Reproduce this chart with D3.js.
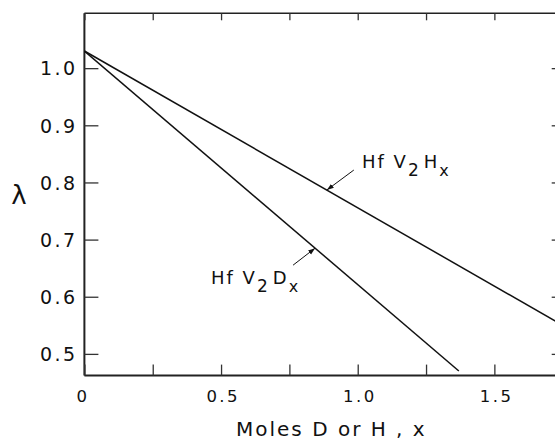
<!DOCTYPE html>
<html>
<head>
<meta charset="utf-8">
<script src="https://cdn.jsdelivr.net/npm/d3@7"></script>
<style>
  body { margin: 0; background: #fff; }
  svg text { font-family: "DejaVu Sans", sans-serif; fill: #111; }
</style>
</head>
<body>
<div id="chart"></div>
<script>
// lambda vs moles of H or D
var seriesNames = ["HfV2Hx", "HfV2Dx"];
var hydrideX = [0, 1.75];
var hydrideY = [1.03, 0.55];
var deuterideX = [0, 1.37];
var deuterideY = [1.03, 0.47];
var xTicks = [0, 0.5, 1.0, 1.5];
var xMinorTicks = [0.25, 0.75, 1.25, 1.75];
var yTicks = [0.5, 0.6, 0.7, 0.8, 0.9, 1.0];
var labelAt = [0.887, 0.844]; // x where the arrows touch each line

var width = 555, height = 439;
var plotL = 84.4, plotR = 562.7, plotT = 13.3, plotB = 375.6;

var svg = d3.select("#chart").append("svg")
    .attr("width", width)
    .attr("height", height);

var x = d3.scaleLinear().domain([0, 1.75]).range([plotL, plotR]);
var y = d3.scaleLinear().domain([0.462, 1.096]).range([plotB, plotT]);

var defs = svg.append("defs");
defs.append("marker")
    .attr("id", "arrow")
    .attr("viewBox", "0 0 10 10")
    .attr("refX", 10).attr("refY", 5)
    .attr("markerWidth", 7).attr("markerHeight", 7)
    .attr("markerUnits", "userSpaceOnUse")
    .attr("orient", "auto")
  .append("path")
    .attr("d", "M0,1.5 L10,5 L0,8.5 Z")
    .attr("fill", "#111");

defs.append("clipPath").attr("id", "clip")
  .append("rect").attr("x", plotL).attr("y", plotT).attr("width", plotR - plotL).attr("height", plotB - plotT);

// frame
var frame = svg.append("g").attr("stroke", "#222").attr("fill", "none");
frame.append("line").attr("x1", plotL).attr("x2", plotR).attr("y1", plotB).attr("y2", plotB).attr("stroke-width", 2);
frame.append("line").attr("x1", plotL).attr("x2", plotL).attr("y1", plotT).attr("y2", plotB).attr("stroke-width", 2);
frame.append("line").attr("x1", plotL).attr("x2", plotR).attr("y1", plotT).attr("y2", plotT).attr("stroke-width", 1.6);
frame.append("line").attr("x1", plotR).attr("x2", plotR).attr("y1", plotT).attr("y2", plotB).attr("stroke-width", 1.6);

// axes, ticks drawn inward
var allX = xTicks.concat(xMinorTicks);
function tickStyle(g) {
    g.select(".domain").remove();
    g.selectAll("line").attr("stroke", "#333").attr("stroke-width", 1.3);
}

svg.append("g")
    .attr("transform", "translate(0," + plotB + ")")
    .call(d3.axisTop(x).tickValues(allX).tickSize(11).tickFormat(""))
    .call(tickStyle);

svg.append("g")
    .attr("transform", "translate(0," + plotT + ")")
    .call(d3.axisBottom(x).tickValues(allX).tickSize(7).tickFormat(""))
    .call(tickStyle);

svg.append("g")
    .attr("transform", "translate(" + plotL + ",0)")
    .call(d3.axisRight(y).tickValues(yTicks).tickSize(14).tickFormat(""))
    .call(tickStyle);

svg.append("g")
    .attr("transform", "translate(" + plotR + ",0)")
    .call(d3.axisLeft(y).tickValues(yTicks).tickSize(11).tickFormat(""))
    .call(tickStyle);

// tick labels
svg.append("g").selectAll("text")
    .data(xTicks)
    .enter().append("text")
    .attr("x", function (d) { return x(d) + (d === 0 ? -1.5 : 2.2); })
    .attr("y", 401.5)
    .attr("text-anchor", "middle")
    .attr("font-size", 16.5)
    .attr("letter-spacing", 2.5)
    .text(function (d) { return d === 0 ? "0" : d.toFixed(1); });

svg.append("g").selectAll("text")
    .data(yTicks)
    .enter().append("text")
    .attr("x", 77.4)
    .attr("y", function (d) { return y(d) + 7.2; })
    .attr("text-anchor", "end")
    .attr("font-size", 19)
    .attr("letter-spacing", 2.4)
    .text(function (d) { return d.toFixed(1); });

// axis titles
svg.append("text")
    .attr("x", 236).attr("y", 435.5)
    .attr("font-size", 20)
    .attr("letter-spacing", 2)
    .text("Moles D or H , x");

svg.append("text")
    .attr("x", 19).attr("y", 204)
    .attr("text-anchor", "middle")
    .attr("font-size", 26)
    .text("λ");

// lines
var line = d3.line().x(function (d) { return x(d[0]); }).y(function (d) { return y(d[1]); });
var hydride = d3.zip(hydrideX, hydrideY);
var deuteride = d3.zip(deuterideX, deuterideY);

var lines = svg.append("g").attr("clip-path", "url(#clip)");
[hydride, deuteride].forEach(function (pts) {
    lines.append("path")
        .attr("d", line(pts))
        .attr("fill", "none")
        .attr("stroke", "#111")
        .attr("stroke-width", 1.5);
});

// labels with arrows
function interp(pts, xv) {
    var a = pts[0], b = pts[1];
    return a[1] + (b[1] - a[1]) * (xv - a[0]) / (b[0] - a[0]);
}

var annots = [
    { pts: hydride, at: labelAt[0], dx: 27, dy: -20, tx: 362, ty: 168, sub: "H" },
    { pts: deuteride, at: labelAt[1], dx: -22, dy: 17, tx: 211, ty: 284, sub: "D" }
];

annots.forEach(function (a) {
    var px = x(a.at), py = y(interp(a.pts, a.at));
    svg.append("line")
        .attr("x1", px + a.dx).attr("y1", py + a.dy)
        .attr("x2", px).attr("y2", py)
        .attr("stroke", "#111")
        .attr("stroke-width", 1)
        .attr("marker-end", "url(#arrow)");

    var t = svg.append("text")
        .attr("x", a.tx).attr("y", a.ty)
        .attr("font-size", 18)
        .attr("letter-spacing", 2);
    t.append("tspan").text("Hf V");
    t.append("tspan").attr("dy", 8).attr("font-size", 17).text("2");
    t.append("tspan").attr("dy", -8).attr("dx", 3).text(a.sub);
    t.append("tspan").attr("dy", 8).attr("font-size", 16).text("x");
});
</script>
</body>
</html>
